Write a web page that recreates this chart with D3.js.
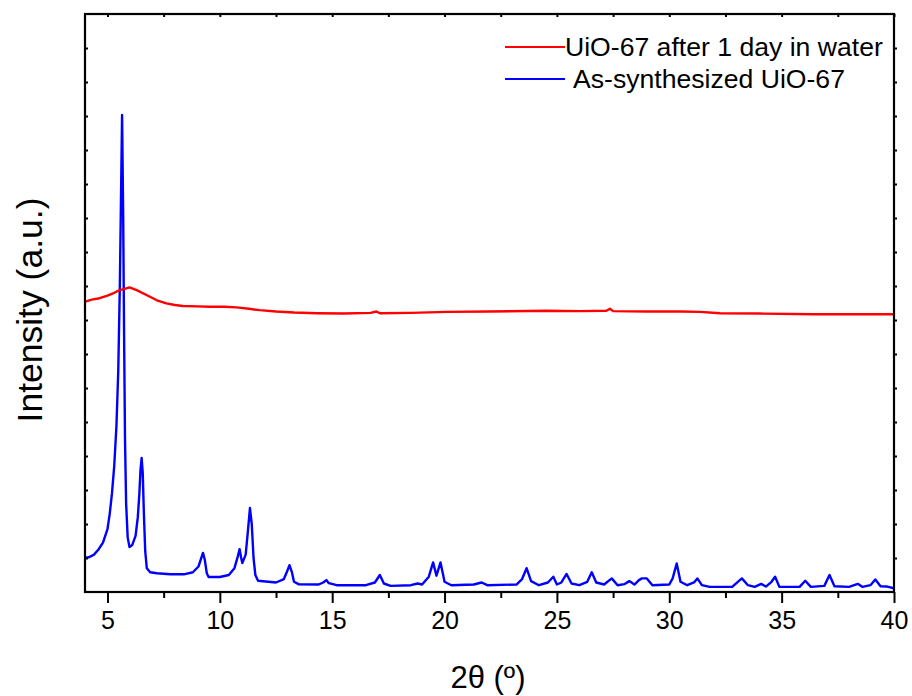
<!DOCTYPE html>
<html><head><meta charset="utf-8">
<script src="https://cdn.jsdelivr.net/npm/d3@7"></script>
<style>body{margin:0;background:#fff;} text{font-family:"Liberation Sans",Arial,sans-serif;}</style>
</head><body>
<svg id="chart" width="912" height="696"></svg>
<script>
// ---- data ----
const seriesNames = ["UiO-67 after 1 day in water", "As-synthesized UiO-67"];
const seriesColors = ["#ff0000", "#0000ff"];
const xTicks = [5, 10, 15, 20, 25, 30, 35, 40];
const xMinorTicks = [7.5, 12.5, 17.5, 22.5, 27.5, 32.5, 37.5];
const yTicks = [1,2,3,4,5,6,7,8,9,10,11,12,13,14,15,16];

const blueX = [4.0,4.2,4.4,4.6,4.8,5.0,5.1,5.2,5.3,5.4,5.48,5.55,5.6,5.65,5.7,5.74,5.78,5.83,5.9,5.98,6.1,6.25,6.35,6.42,6.47,6.52,6.57,6.62,6.68,6.75,6.9,7.2,7.8,8.4,8.8,9.05,9.15,9.25,9.33,9.42,9.5,10.0,10.4,10.65,10.8,10.88,10.95,11.0,11.15,11.25,11.34,11.42,11.5,11.58,11.7,12.5,12.85,13.0,13.1,13.2,13.3,13.5,14.4,14.6,14.74,14.85,15.2,16.5,16.9,17.12,17.3,17.6,18.5,18.8,19.0,19.3,19.49,19.64,19.82,20.0,20.3,21.3,21.65,21.9,23.2,23.45,23.65,23.85,24.2,24.6,24.84,25.0,25.2,25.43,25.65,26.0,26.35,26.55,26.75,27.1,27.44,27.7,28.0,28.22,28.45,28.65,28.78,29.0,29.25,30.0,30.15,30.33,30.5,30.8,31.1,31.25,31.45,31.8,32.8,33.05,33.23,33.5,33.8,34.09,34.3,34.55,34.71,34.9,35.8,36.05,36.3,36.9,37.13,37.35,38.0,38.39,38.6,38.95,39.17,39.4,39.7,40.0];
const blueY = [1.00,1.03,1.10,1.25,1.45,1.85,2.30,2.90,3.70,4.90,6.50,9.00,11.50,14.03,11.0,7.5,4.5,2.6,1.6,1.32,1.38,1.65,2.20,2.90,3.60,3.94,3.50,2.3,1.2,0.7,0.58,0.55,0.52,0.52,0.58,0.75,0.95,1.15,0.95,0.55,0.44,0.44,0.50,0.70,1.05,1.26,1.0,0.85,1.1,1.8,2.47,2.0,1.0,0.5,0.33,0.28,0.38,0.62,0.79,0.6,0.3,0.23,0.22,0.28,0.35,0.26,0.2,0.2,0.28,0.50,0.25,0.18,0.2,0.25,0.22,0.45,0.87,0.48,0.87,0.3,0.2,0.22,0.28,0.2,0.22,0.38,0.70,0.32,0.2,0.28,0.45,0.22,0.28,0.53,0.25,0.2,0.3,0.58,0.28,0.22,0.40,0.2,0.23,0.32,0.22,0.35,0.40,0.40,0.2,0.22,0.4,0.84,0.3,0.2,0.28,0.40,0.2,0.15,0.15,0.3,0.40,0.2,0.15,0.24,0.16,0.3,0.45,0.15,0.15,0.33,0.15,0.18,0.50,0.17,0.15,0.24,0.15,0.2,0.37,0.17,0.16,0.11];

const redX = [4.0,4.3,4.65,5.0,5.3,5.54,5.8,5.98,6.3,6.87,7.2,7.62,8.0,8.36,9.0,9.55,10.2,10.73,11.3,11.77,12.5,13.3,14.33,15.5,16.7,16.97,17.12,18.5,20.1,22.0,24.54,26.0,27.2,27.36,27.5,29.0,30.5,31.37,32.26,34.0,36.42,38.0,40.0];
const redY = [8.54,8.60,8.64,8.72,8.80,8.88,8.92,8.96,8.88,8.69,8.58,8.49,8.44,8.41,8.40,8.39,8.39,8.37,8.33,8.29,8.25,8.22,8.20,8.19,8.21,8.25,8.20,8.21,8.24,8.25,8.27,8.26,8.27,8.33,8.26,8.25,8.25,8.24,8.20,8.19,8.17,8.17,8.17];

// ---- chart ----
(function () {
const svg = d3.select("#chart");
const L = 85, R = 894, T = 14, B = 592;
const x = d3.scaleLinear().domain([4, 40]).range([L, R]);
const y = d3.scaleLinear().domain([0, 17]).range([B, T]);

const line = d3.line().x(d => x(d[0])).y(d => y(d[1]));
const redData = redX.map((v, i) => [v, redY[i]]);
const blueData = blueX.map((v, i) => [v, blueY[i]]);

svg.append("clipPath").attr("id", "clip").append("rect")
  .attr("x", L).attr("y", T).attr("width", R - L).attr("height", B - T);

svg.append("path").datum(blueData).attr("d", line).attr("fill", "none")
  .attr("stroke", seriesColors[1]).attr("stroke-width", 2.4).attr("stroke-linejoin", "round")
  .attr("clip-path", "url(#clip)");
svg.append("path").datum(redData).attr("d", line).attr("fill", "none")
  .attr("stroke", seriesColors[0]).attr("stroke-width", 2.4).attr("stroke-linejoin", "round")
  .attr("clip-path", "url(#clip)");

// axes
const gBottom = svg.append("g").attr("transform", `translate(0,${B})`)
  .call(d3.axisBottom(x).tickValues(xTicks).tickSize(11).tickPadding(8).tickFormat(d3.format("d")));
const gBottomMinor = svg.append("g").attr("transform", `translate(0,${B})`)
  .call(d3.axisBottom(x).tickValues(xMinorTicks).tickSize(6).tickFormat(""));
const gTop = svg.append("g").attr("transform", `translate(0,${T})`)
  .call(d3.axisTop(x).tickValues(xTicks.concat(xMinorTicks)).tickSize(-3).tickFormat(""));
const gLeft = svg.append("g").attr("transform", `translate(${L},0)`)
  .call(d3.axisLeft(y).tickValues(yTicks).tickSize(-3).tickFormat(""));
const gRight = svg.append("g").attr("transform", `translate(${R},0)`)
  .call(d3.axisRight(y).tickValues(yTicks).tickSize(3).tickFormat(""));

[gBottom, gBottomMinor, gTop, gLeft, gRight].forEach(g => {
  g.select(".domain").remove();
  g.selectAll(".tick line").attr("stroke", "#000").attr("stroke-width", 2);
});
gBottom.selectAll(".tick text").attr("font-size", 25).attr("fill", "#000")
  .attr("font-family", "Liberation Sans, Arial, sans-serif");

svg.append("rect").attr("x", L).attr("y", T).attr("width", R - L).attr("height", B - T)
  .attr("fill", "none").attr("stroke", "#000").attr("stroke-width", 2.2);

// axis titles
svg.append("text").attr("x", 488).attr("y", 688).attr("text-anchor", "middle")
  .attr("font-size", 31).attr("fill", "#000").text("2\u03B8 (\u00BA)");
svg.append("text").attr("transform", "translate(42,310) rotate(-90)").attr("text-anchor", "middle")
  .attr("font-size", 35.5).attr("fill", "#000").text("Intensity (a.u.)");

// legend
const leg = [
  {name: seriesNames[0], color: seriesColors[0], ly: 47, tx: 565, ty: 56},
  {name: seriesNames[1], color: seriesColors[1], ly: 79, tx: 573, ty: 88}
];
leg.forEach(d => {
  svg.append("line").attr("x1", 505).attr("x2", 565).attr("y1", d.ly).attr("y2", d.ly)
    .attr("stroke", d.color).attr("stroke-width", 2.2);
  svg.append("text").attr("x", d.tx).attr("y", d.ty).attr("font-size", 26.6).attr("fill", "#000").text(d.name);
});
})();
</script>
</body></html>
